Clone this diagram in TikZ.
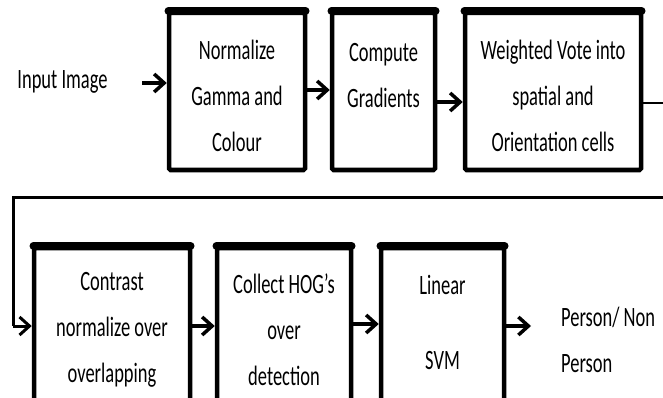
\documentclass[tikz,border=0pt]{standalone}
\usepackage{fontspec}
\setmainfont[FakeStretch=0.66]{Carlito}
\usetikzlibrary{arrows.meta}
\begin{document}
\begin{tikzpicture}[x=1pt,y=-1pt,
  box/.style={draw, line width=4.5pt, inner sep=0pt, rounded corners=1.5pt},
  topedge/.style={line width=8pt, line cap=round},
  txt/.style={align=center, font=\fontsize{28}{46}\selectfont, inner sep=0pt},
  arr/.style={line width=3.5pt, -{Straight Barb[length=10pt,width=18pt]}},
  thinline/.style={line width=2pt},
  backline/.style={line width=3pt}]
\useasboundingbox (0,0) rectangle (663,398);
\clip (0,0) rectangle (663,398);
% row 1
\node[txt] (in) at (62.5,82) {Input Image};
\node[box, minimum width=136pt, minimum height=157pt] (b1) at (237,91.5) {};
\node[txt] (t1) at (237,96) {Normalize\\Gamma and\\Colour};
\node[box, minimum width=103pt, minimum height=157pt] (b2) at (383.5,91.5) {};
\node[txt] (t2) at (383.5,76) {Compute\\Gradients};
\node[box, minimum width=176pt, minimum height=157pt] (b3) at (553,91.5) {};
\node[txt] (t3) at (553,96) {Weighted Vote into\\spatial and\\Orientation cells};
% row 2
\node[box, minimum width=156pt, minimum height=162pt] (b4) at (112,329) {};
\node[txt] (t4) at (112,330) {Contrast\\normalize over\\overlapping};
\node[box, minimum width=134pt, minimum height=162pt] (b5) at (284,329) {};
\node[txt] (t5) at (284,330) {Collect HOG’s\\over\\detection};
\node[box, minimum width=123pt, minimum height=162pt] (b6) at (442.5,329) {};
\node[txt] (t6) at (442.5,322) {Linear\\[29pt]SVM};
\node[txt, align=left, anchor=west] (out) at (561,340) {Person/ Non\\Person};
% thick top edges
\foreach \b in {b1,b2,b3,b4,b5,b6}
  \draw[topedge] ([xshift=1.75pt]\b.north west) -- ([xshift=-1.75pt]\b.north east);
% connectors
\coordinate (a0) at (142,83);
\draw[arr] (a0) -- (a0 -| b1.west);
\draw[arr] (b1.east |- 0,90) -- (b2.west |- 0,90);
\draw[arr] (b2.east |- 0,102) -- (b3.west |- 0,102);
\coordinate (rt) at (680,103);
\draw[thinline] (b3.east |- rt) -- (rt);
\coordinate (r) at (680,197);
\coordinate (l) at (13,197);
\coordinate (ld) at (13,326);
\draw[backline] (r) -- (l) -- (ld);
\draw[arr, line width=3pt] (ld) -- (ld -| b4.west);
\draw[arr] (b4.east |- 0,326) -- (b5.west |- 0,326);
\draw[arr] (b5.east |- 0,324) -- (b6.west |- 0,324);
\coordinate (o) at (531,326);
\draw[arr] (b6.east |- o) -- (o);
\end{tikzpicture}
\end{document}
